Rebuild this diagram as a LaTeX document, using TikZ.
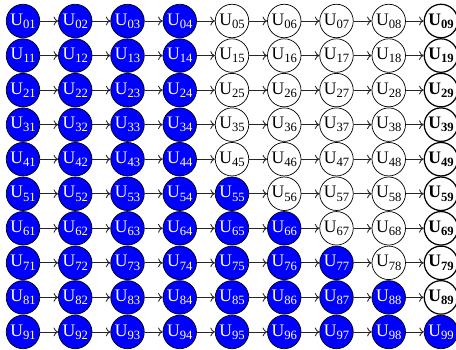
\documentclass[tikz,border=0pt]{standalone}
\usepackage{fontspec}
\setmainfont{Liberation Serif}
\usetikzlibrary{arrows.meta}

\newcommand{\subidx}[1]{\raisebox{-0.4ex}{\fontsize{7.2}{8}\selectfont #1}}

\begin{document}
\begin{tikzpicture}[
    x=0.02cm, y=-0.02cm,
    every node/.style={circle, draw, minimum size=0.67cm, inner sep=0pt, font=\fontsize{10}{12}\selectfont},
    azul/.style={fill=blue, text=white},
    blanco/.style={fill=white},
    final/.style={fill=white, line width=0.7pt, font=\fontsize{10}{12}\selectfont\bfseries},
    edge/.style={-{To[length=2.6pt,width=5pt]}, line width=0.5pt, color=black!85}
]
\useasboundingbox (0,0) rectangle (456,349);

% Nodos
\foreach \r in {0,...,9}{
  \foreach \c in {1,...,9}{
    \pgfmathtruncatemacro\esazul{(\c<5)||(\c<=\r)}
    \ifnum\esazul=1 \def\estilo{azul}\else
      \ifnum\c=9 \def\estilo{final}\else \def\estilo{blanco}\fi
    \fi
    \node[\estilo] (U\r\c) at ({23+52.25*(\c-1)}, {21+34.55*\r}) {U\subidx{\r\c}};
  }
}

% Aristas
\foreach \r in {0,...,9}{
  \foreach \c [evaluate=\c as \sig using int(\c+1)] in {1,...,8}{
    \draw[edge] (U\r\c) -- (U\r\sig);
  }
}

\end{tikzpicture}
\end{document}
